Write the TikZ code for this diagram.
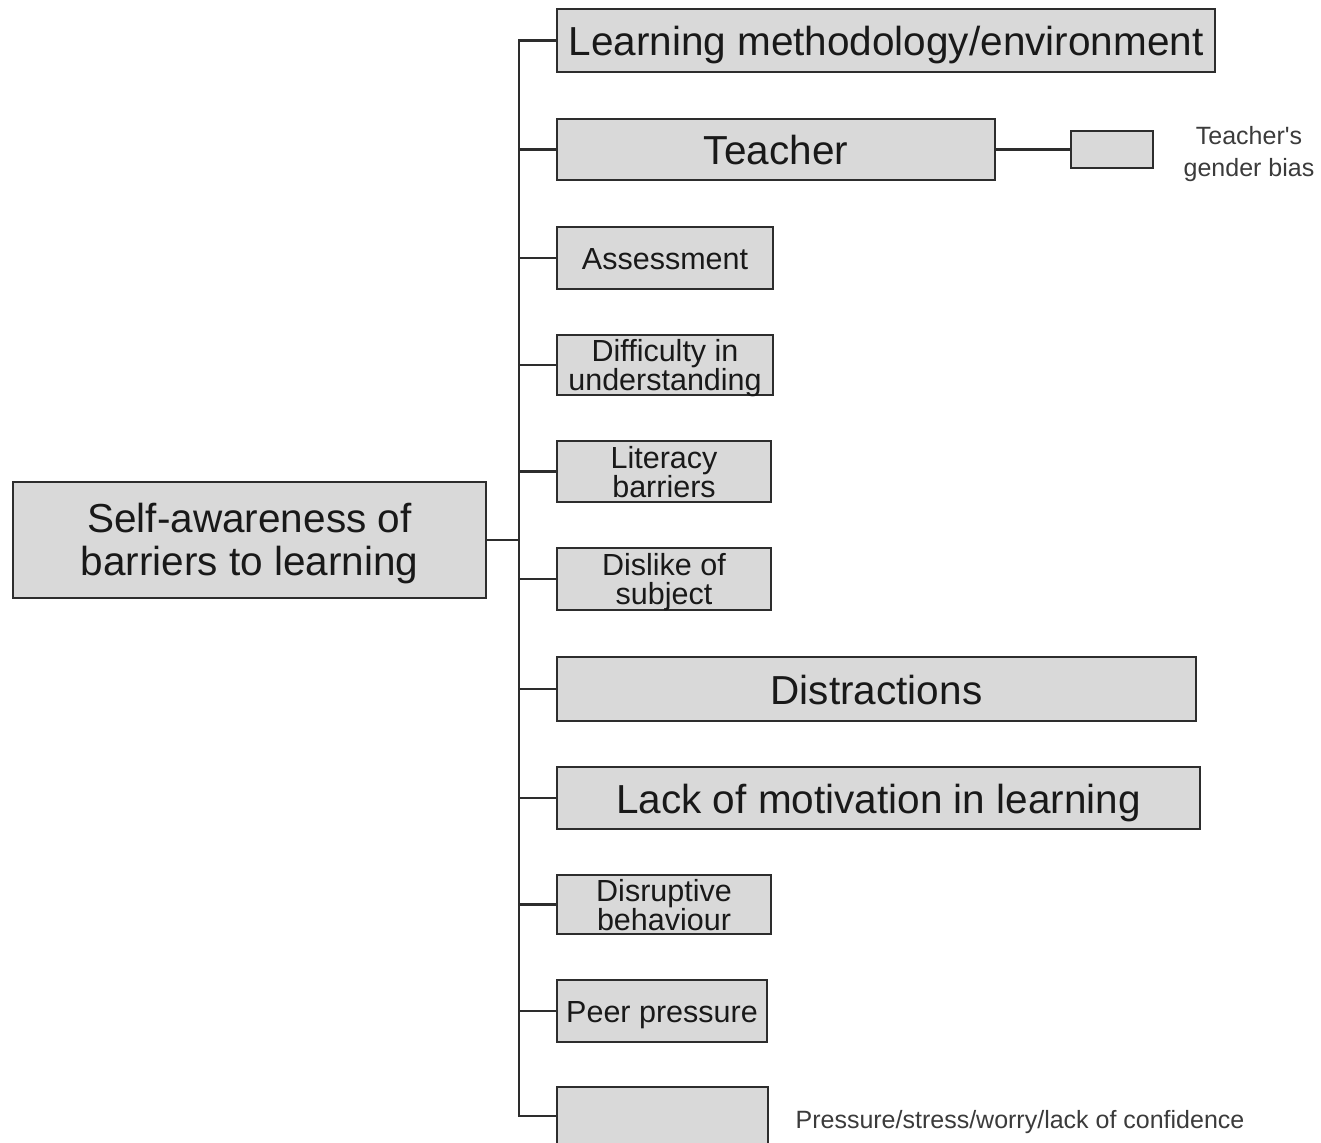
\documentclass[tikz,border=0pt]{standalone}
\usepackage{fontspec}
\setmainfont{Liberation Sans}
\newfontfamily\notefont{Liberation Sans}
\definecolor{boxfill}{RGB}{217,217,217}
\definecolor{edge}{RGB}{45,45,45}
\definecolor{txt}{RGB}{25,25,25}
\begin{document}
\begin{tikzpicture}[x=1pt,y=-1pt,
  box/.style={draw=edge,fill=boxfill,line width=2pt,inner sep=0pt,outer sep=0pt,align=center,text=txt},
  big/.style={font=\fontsize{40.5}{43}\selectfont},
  small/.style={font=\fontsize{30.5}{29}\selectfont},
  bigone/.style={big,text height=30pt,text depth=0pt},
  smallone/.style={small,text height=23.5pt,text depth=0pt},
  bigtwo/.style={big,text height=71pt,text depth=0pt},
  smalltwo/.style={small,text height=51pt,text depth=0pt},
  note/.style={inner sep=0pt,align=center,text=txt!85!white,font=\notefont\fontsize{25}{32}\selectfont},
  link/.style={draw=edge,line width=2.2pt}]
\clip (0,0) rectangle (1321,1142);
\fill[white] (0,0) rectangle (1321,1142);
\node[box,bigtwo,minimum width=473,minimum height=116] (main) at (249.5,540) {Self-awareness of\\barriers to learning};
\node[box,bigone,minimum width=658,minimum height=63] (lm) at (886,40.5) {Learning methodology/environment};
\node[box,bigone,minimum width=438,minimum height=61] (te) at (776,149.5) {Teacher};
\node[box,minimum width=82,minimum height=37] (tb) at (1112,149.5) {};
\node[note] (tbl) at (1249,154) {Teacher's\\gender bias};
\node[box,smallone,minimum width=216,minimum height=62] (as) at (665,258) {Assessment};
\node[box,smalltwo,minimum width=216,minimum height=60] (di) at (665,365) {Difficulty in\\understanding};
\node[box,smalltwo,minimum width=214,minimum height=61] (li) at (664,471.5) {Literacy\\barriers};
\node[box,smalltwo,minimum width=214,minimum height=62] (ds) at (664,579) {Dislike of\\subject};
\node[box,bigone,minimum width=639,minimum height=64] (dt) at (876.5,689) {Distractions};
\node[box,bigone,minimum width=643,minimum height=62] (lk) at (878.5,798) {Lack of motivation in learning};
\node[box,smalltwo,minimum width=214,minimum height=59] (dr) at (664,904.5) {Disruptive\\behaviour};
\node[box,smallone,minimum width=210,minimum height=62] (pp) at (662,1011) {Peer pressure};
\node[box,minimum width=211,minimum height=58] (ps) at (662.5,1116) {};
\node[note] (psl) at (1020,1122) {Pressure/stress/worry/lack of confidence};
\coordinate (tr) at (519,540);
\draw[link] (main.east) -- (tr);
\foreach \n in {lm,te,as,di,li,ds,dt,lk,dr,pp,ps}
  \draw[link] (tr) |- (\n.west);
\draw[link] (te.east) -- (tb.west);
\end{tikzpicture}
\end{document}
